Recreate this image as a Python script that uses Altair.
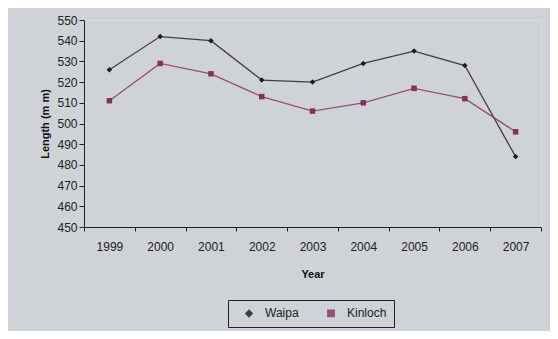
import altair as alt
import pandas as pd

years = ["1999", "2000", "2001", "2002", "2003", "2004", "2005", "2006", "2007"]
waipa = [526, 542, 540, 521, 520, 529, 535, 528, 484]
kinloch = [511, 529, 524, 513, 506, 510, 517, 512, 496]
series = ["Waipa", "Kinloch"]

rows = []
for name, vals in zip(series, [waipa, kinloch]):
    for y, v in zip(years, vals):
        rows.append({"Year": y, "Length": v, "Series": name})
df = pd.DataFrame(rows)

FONT = "Liberation Sans"

x = alt.X("Year:N", sort=years, title="Year",
          scale=alt.Scale(paddingInner=0, paddingOuter=0),
          axis=alt.Axis(labelAngle=0, tickBand="extent", domainColor="#222",
                        tickColor="#222", tickSize=4, labelPadding=10,
                        labelFontSize=12, labelColor="#222", titleFontSize=11,
                        titleFontWeight="bold", titleColor="#111", titlePadding=16))
y = alt.Y("Length:Q", title="Length (m m)",
          scale=alt.Scale(domain=[450, 550], nice=False, zero=False),
          axis=alt.Axis(values=list(range(450, 551, 10)), grid=False, domainColor="#222",
                        tickColor="#222", tickSize=5, labelFontSize=12, labelColor="#222",
                        titleFontSize=11, titleFontWeight="bold", titleColor="#111",
                        titlePadding=6))
legend = alt.Legend(title=None, orient="none", legendX=144, legendY=280,
                    direction="horizontal", strokeColor="#222",
                    padding=7, labelFontSize=12, labelColor="#222",
                    symbolSize=40, columnPadding=18, labelOffset=10, symbolOffset=8)
color = alt.Color("Series:N", sort=series,
                  scale=alt.Scale(domain=series, range=["#1c1c1c", "#86305e"]),
                  legend=legend)
shape = alt.Shape("Series:N", sort=series,
                  scale=alt.Scale(domain=series, range=["diamond", "square"]),
                  legend=legend)

lines = alt.Chart(df).mark_line(strokeWidth=1.3, opacity=0.8).encode(
    x=x, y=y, color=color)
points = alt.Chart(df).mark_point(filled=True, size=30, opacity=1).encode(
    x=x, y=y, color=color, shape=shape)

chart = alt.layer(lines, points).properties(
    width=457, height=207,
    autosize=alt.AutoSizeParams(type="none"),
    padding={"left": 76, "top": 12, "right": 9, "bottom": 104},
    background="#cfd2d6",
).configure_view(fill="#d5d8dc", stroke="#8a8a8a", strokeWidth=1.5).configure(
    font=FONT)

chart.save("out.html", embed_options={"renderer": "svg", "actions": False})
